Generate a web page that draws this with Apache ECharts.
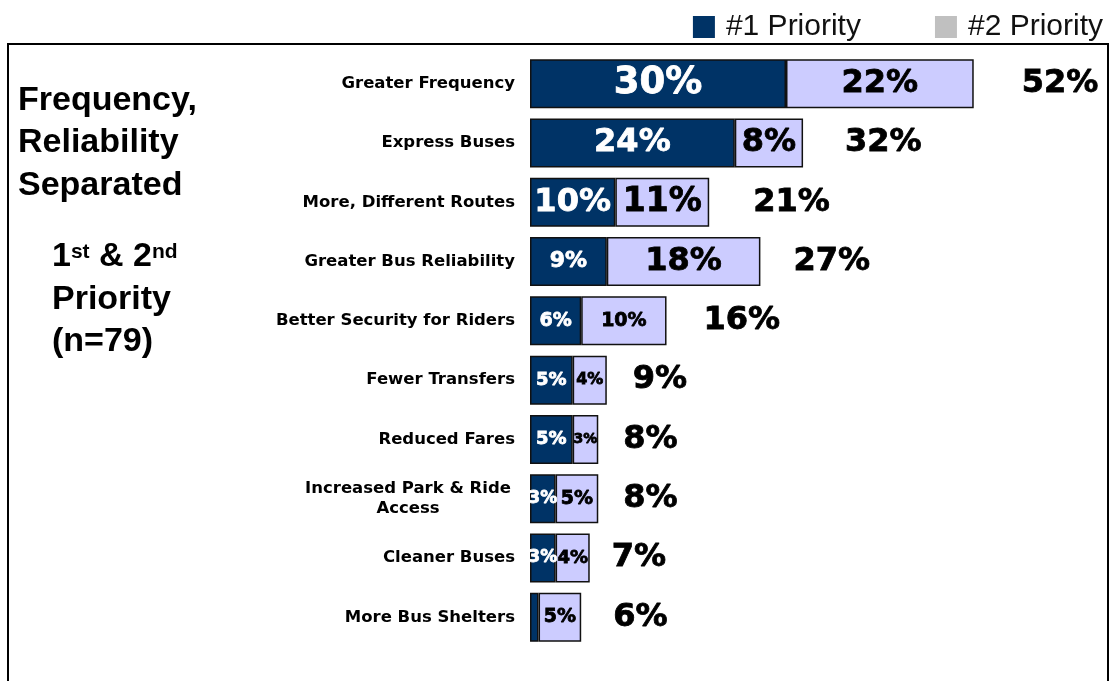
<!DOCTYPE html>
<html><head><meta charset="utf-8">
<script src="https://cdn.jsdelivr.net/npm/echarts@6/dist/echarts.min.js"></script>
<style>html,body{margin:0;padding:0;background:#fff}#c{width:1112px;height:681px}</style>
</head><body><div id="c"></div>
<script>
var categories = ["Greater Frequency","Express Buses","More, Different Routes","Greater Bus Reliability","Better Security for Riders","Fewer Transfers","Reduced Fares","Increased Park & Ride\nAccess","Cleaner Buses","More Bus Shelters"];
var priority1 = [30,24,10,9,6,5,5,3,3,1];
var priority2 = [22,8,11,18,10,4,3,5,4,5];
var totals = [52,32,21,27,16,9,8,8,7,6];
var p1Labels = ["30%","24%","10%","9%","6%","5%","5%","3%","3%",""];
var p2Labels = ["22%","8%","11%","18%","10%","4%","3%","5%","4%","5%"];
var totalLabels = ["52%","32%","21%","27%","16%","9%","8%","8%","7%","6%"];
var seriesNames = ["#1 Priority","#2 Priority"];

var NAVY = "#003366", LAV = "#ccccff";
var F = "Liberation Sans, Arial, sans-serif";
var V = "DejaVu Sans, Verdana, sans-serif";
var p1Size = [37,32,32,22,19,18,18,17,17,12];
var p2Size = [32,32,33,32,19,16,14,19,18,19];
var totGap = [48,42,44,33,37,26,25,25,22,32];

function lbl(color, size){
  return {show:true, position:'inside', color:color, fontFamily:V, fontWeight:'bold', fontSize:size,
          textBorderColor:color, textBorderWidth:0.8};
}

var chart = echarts.init(document.getElementById('c'), null, {renderer:'canvas'});
chart.setOption({
  animation:false,
  backgroundColor:'#fff',
  legend:{
    top:7, right:4, itemWidth:22, itemHeight:22, itemGap:74, icon:'rect',
    textStyle:{fontFamily:F, fontSize:30, color:'#111', padding:[0,0,0,6]},
    data:[
      {name:seriesNames[0], itemStyle:{color:NAVY, borderWidth:0}},
      {name:seriesNames[1], itemStyle:{color:'#c0c0c0', borderWidth:0}}
    ]
  },
  grid:{left:530, top:54, height:593, width:512},
  xAxis:{type:'value', min:0, max:60, show:false},
  yAxis:{type:'category', data:categories, inverse:true,
    axisLine:{show:false}, axisTick:{show:false},
    axisLabel:{margin:15, align:'right',
      formatter:function(v){ return v.indexOf('\n')>=0 ? '{c|'+v.split('\n').join('}\n{c|')+'}' : '{r|'+v+'}'; },
      rich:{
        r:{fontFamily:V, fontWeight:'bold', fontSize:16.5, color:'#000', align:'right'},
        c:{fontFamily:V, fontWeight:'bold', fontSize:16.5, color:'#000', width:214, align:'center', lineHeight:20}
      }
    }
  },
  graphic:[
    {type:'rect', shape:{x:8,y:44,width:1100,height:700}, style:{fill:'none', stroke:'#000', lineWidth:2}, z:-1},
    {type:'text', left:18, top:79, style:{text:"Frequency,\nReliability\nSeparated", font:"bold 34px Liberation Sans, Arial, sans-serif", fill:'#000', lineHeight:42.5}},
    {type:'text', left:52, top:240, style:{
      text:"{b|1}{s|st}{b| & 2}{s|nd}\n{b|Priority}\n{b|(n=79)}",
      rich:{
        b:{font:"bold 34px Liberation Sans, Arial, sans-serif", fill:'#000', lineHeight:42.5},
        s:{font:"bold 21px Liberation Sans, Arial, sans-serif", fill:'#000', lineHeight:42.5, padding:[0,0,10,0]}
      }}}
  ],
  series:[
    {name:seriesNames[0], type:'bar', stack:'t', barWidth:49,
     itemStyle:{color:NAVY, borderColor:'#111', borderWidth:1.5},
     data:priority1.map(function(v,i){var l=lbl('#fff',p1Size[i]); l.formatter=p1Labels[i]; return {value:v, label:l};})
    },
    {name:seriesNames[1], type:'bar', stack:'t', barWidth:49,
     itemStyle:{color:LAV, borderColor:'#111', borderWidth:1.5},
     data:priority2.map(function(v,i){var l=lbl('#000',p2Size[i]); l.formatter=p2Labels[i]; return {value:v, label:l};})
    },
    {name:'Total', type:'scatter', symbolSize:0, silent:true, itemStyle:{opacity:1},
     label:{show:true, position:'right', color:'#000000', fontFamily:V, fontWeight:'bold', fontSize:32, textBorderColor:'#000', textBorderWidth:0.8},
     data:totals.map(function(v,i){return {value:[v,i], label:{distance:totGap[i], formatter:totalLabels[i]}};})
    }
  ]
});
</script></body></html>
